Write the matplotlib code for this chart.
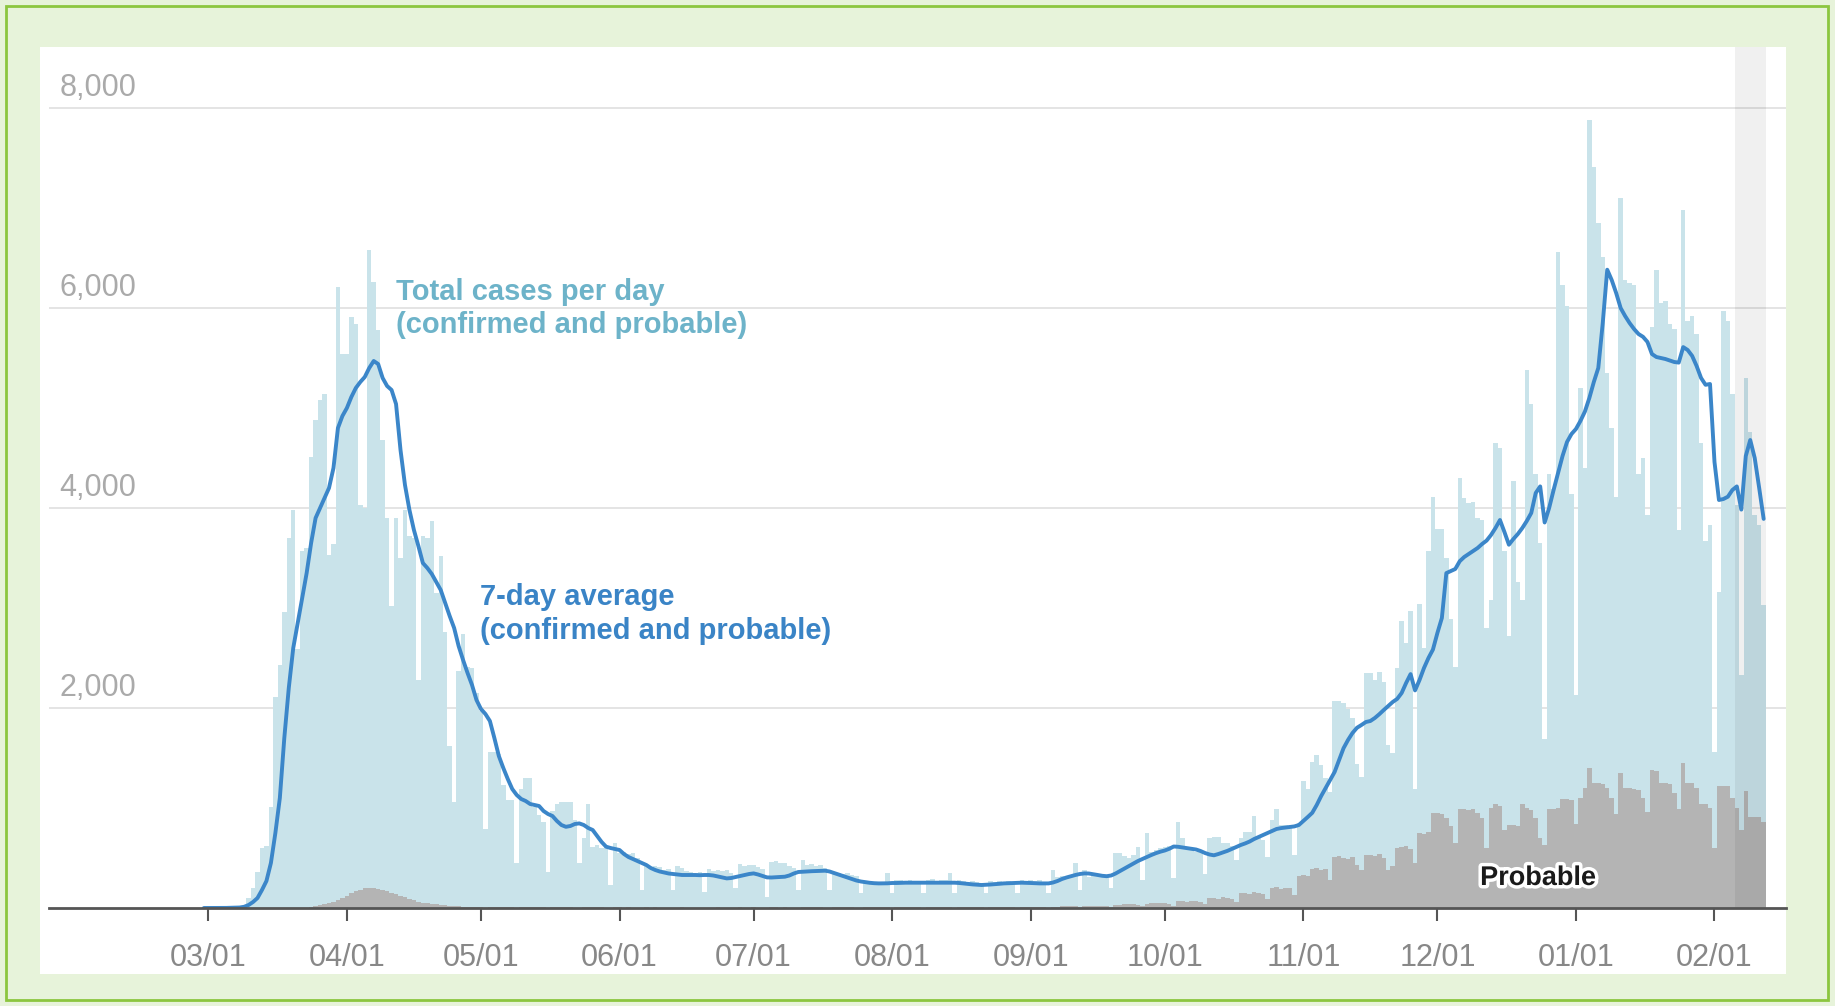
import matplotlib
matplotlib.use("Agg")
import matplotlib.pyplot as plt
import matplotlib.dates as mdates
import matplotlib.patheffects as pe
from matplotlib.patches import Rectangle
import pandas as pd

# daily data, 2020-02-29 .. 2021-02-12
start_date = "2020-02-29"

total_cases = [
    0,
    0, 0, 1, 2, 2, 5, 8,
    10, 25, 100, 200, 360, 600, 620,
    1014, 2106, 2434, 2960, 3700, 3985, 2590,
    3570, 3600, 4510, 4880, 5080, 5140, 3530,
    3640, 6215, 5540, 5540, 5910, 5840, 4030,
    4000, 6585, 6260, 5780, 4685, 3900, 3020,
    3900, 3500, 3985, 3720, 3700, 2280, 3720,
    3700, 3875, 3155, 3525, 2760, 1625, 1057,
    2370, 2740, 2410, 2400, 2150, 1975, 795,
    1560, 1560, 1540, 1230, 1080, 1080, 446,
    1190, 1300, 1300, 1014, 926, 862, 363,
    970, 1045, 1062, 1062, 1062, 880, 446,
    700, 1045, 613, 630, 600, 613, 230,
    646, 546, 560, 540, 546, 500, 180,
    430, 400, 420, 410, 380, 390, 180,
    420, 400, 370, 360, 355, 365, 163,
    390, 375, 385, 370, 380, 350, 196,
    440, 420, 430, 435, 410, 390, 113,
    463, 470, 455, 450, 420, 400, 180,
    480, 430, 440, 425, 430, 400, 180,
    346, 350, 340, 346, 335, 320, 146,
    246, 250, 240, 246, 255, 346, 146,
    280, 285, 275, 280, 270, 260, 146,
    280, 290, 275, 285, 280, 346, 146,
    280, 270, 260, 270, 260, 250, 146,
    270, 260, 270, 260, 270, 260, 150,
    280, 270, 280, 270, 280, 260, 150,
    380, 313, 320, 310, 313, 446, 180,
    380, 313, 350, 340, 330, 320, 200,
    546, 546, 520, 500, 530, 613, 280,
    746, 560, 580, 600, 613, 620, 300,
    862, 700, 600, 580, 560, 560, 340,
    697, 714, 714, 646, 646, 620, 476,
    700, 765, 760, 918, 700, 680, 510,
    884, 986, 833, 833, 800, 527, 850,
    1275, 1190, 1462, 1530, 1428, 1300, 1156,
    2074, 2074, 2050, 1989, 1900, 1445, 1309,
    2346, 2346, 2278, 2363, 2261, 1632, 1547,
    2400, 2873, 2652, 2975, 1190, 3043, 2600,
    3570, 4114, 3791, 3791, 3502, 2890, 2414,
    4301, 4100, 4046, 4061, 3900, 3880, 2797,
    3080, 4654, 4603, 3571, 2720, 4267, 3261,
    3080, 5377, 5041, 4345, 3648, 1687, 4345,
    4190, 6563, 6228, 6022, 4138, 2126, 5196,
    4396, 7879, 7415, 6847, 6512, 5351, 4800,
    4112, 7105, 6280, 6254, 6228, 4345, 4500,
    3932, 5815, 6383, 6048, 6073, 5841, 5790,
    3777, 6976, 5867, 5919, 5738, 4654, 3674,
    3829, 1558, 3158, 5970, 5867, 5145, 4035,
    2332, 5300, 4758, 3932, 3829, 3029,
]

probable_cases = [
    0, 0, 0, 0, 0, 0, 0, 0, 0, 0, 0, 0, 0, 0, 0, 0, 0, 0, 0, 0, 0, 0, 0,
    5, 10, 20, 30, 40, 50, 60, 80, 100, 120,
    150, 170, 180, 200, 205, 200, 190, 180, 170, 150,
    140, 120, 110, 90, 80, 65, 55, 50, 45, 40,
    35, 30, 25, 20, 18, 15, 12, 10, 8, 6,
    5,
    8, 8, 7, 8, 7, 6, 3,
    8, 7, 7, 8, 6, 6, 3,
    7, 8, 6, 7, 6, 5, 3,
    7, 6, 6, 7, 6, 5, 3,
    6, 6, 5, 6, 5, 5, 2,
    6, 5, 6, 5, 5, 4, 2,
    5, 6, 5, 5, 5, 4, 2,
    5, 5, 6, 5, 5, 4, 2,
    6, 5, 5, 6, 5, 4, 2,
    6, 6, 5, 6, 5, 5, 2,
    7, 6, 6, 7, 6, 5, 3,
    7, 7, 6, 7, 6, 5, 3,
    8, 7, 7, 8, 7, 6, 3,
    8, 8, 7, 8, 7, 6, 3,
    9, 8, 8, 9, 8, 7, 4,
    10, 9, 9, 10, 9, 8, 4,
    11, 10, 10, 11, 10, 9, 5,
    12, 11, 12, 13, 12, 10, 5,
    15,
    15, 16, 18, 17, 16, 8,
    20, 22, 24, 22, 20, 18, 10,
    30, 35, 38, 36, 40, 35, 18,
    45, 48, 50, 47, 50, 45, 25,
    68, 70, 65, 72, 70, 60, 40,
    100, 105, 95, 110, 100, 95, 60,
    150, 155, 145, 160, 150, 140, 90,
    200, 210, 195, 205, 200, 130, 320,
    330, 320, 390, 400, 380, 390, 280,
    510, 520, 500, 490, 510, 430, 380,
    527, 530, 520, 540, 500, 380, 420,
    600, 612, 620, 590, 450, 748, 740,
    760, 952, 950, 940, 900, 820, 650,
    986, 990, 980, 990, 950, 900, 600,
    1000, 1040, 1020, 784, 835, 830, 820,
    1040, 1000, 980, 900, 700, 630, 990,
    990, 1000, 1094, 1090, 1080, 840, 1100,
    1200, 1403, 1249, 1250, 1240, 1200, 1100,
    940, 1352, 1200, 1197, 1190, 1180, 1100,
    965, 1378, 1370, 1250, 1250, 1240, 1150,
    990, 1455, 1250, 1250, 1200, 1042, 1040,
    1000, 600, 1223, 1220, 1223, 1100, 1000,
    785, 1171, 913, 910, 913, 860,
]

avg_7day = [
    0, 0, 0, 0, 1, 1, 2, 3, 5, 12,
    30, 60, 100, 180, 270, 450, 750, 1100, 1700, 2200,
    2600, 2850, 3100, 3350, 3650, 3900, 4000, 4100, 4200, 4400,
    4800, 4920, 5000, 5110, 5200, 5260, 5310, 5400, 5470, 5440,
    5300, 5220, 5180, 5040, 4580, 4230, 3980, 3780, 3620, 3450,
    3400, 3340, 3260, 3180, 3050, 2920, 2800, 2620, 2480, 2350,
    2230, 2080, 1990, 1940, 1870, 1700, 1520, 1400, 1290, 1190,
    1130, 1090, 1070, 1040, 1030, 1020, 970, 940, 920, 870,
    830, 812, 820, 840, 846, 830, 800, 780, 720, 660,
    613, 600, 590, 580, 540, 510, 490, 470, 450, 430,
    400, 380, 365, 355, 345, 340, 335, 330, 330, 330,
    330, 328, 330, 330, 325, 315, 305, 296, 300, 310,
    320, 330, 340, 346, 335, 320, 306, 305, 308, 310,
    313, 325, 345, 360, 363, 365, 368, 370, 372, 373,
    365, 350, 335, 320, 305, 290, 275, 265, 258, 252,
    248, 246, 246, 247, 250, 250, 252, 253, 253, 253,
    252, 252, 253, 253, 253, 254, 253, 252, 253, 250,
    245, 240, 236, 233, 230, 232, 235, 238, 242, 246,
    248, 250, 252, 253, 252, 250, 248, 246, 246, 246,
    255, 270, 290, 305, 318, 330, 340, 346, 345, 338,
    330, 322, 318, 325, 345, 370, 395, 420, 446, 470,
    490, 510, 530, 548, 563, 575, 592, 615, 612, 605,
    598, 590, 585, 570, 550, 535, 527, 540, 555, 571,
    590, 610, 630, 646, 665, 690, 710, 731, 750, 770,
    790, 799, 805, 810, 816, 830, 870, 910, 952, 1030,
    1120, 1200, 1280, 1360, 1480, 1598, 1680, 1750, 1802, 1830,
    1860, 1870, 1900, 1938, 1980, 2020, 2060, 2091, 2150, 2250,
    2339, 2176, 2280, 2400, 2500, 2584, 2750, 2900, 3349, 3370,
    3390, 3468, 3510, 3540, 3570, 3600, 3640, 3674, 3730, 3800,
    3880, 3760, 3633, 3690, 3740, 3800, 3870, 3950, 4150, 4216,
    3855, 4000, 4180, 4350, 4520, 4660, 4740, 4790, 4870, 4964,
    5100, 5260, 5400, 5850, 6383, 6280, 6150, 6000, 5920, 5850,
    5790, 5740, 5712, 5661, 5540, 5510, 5500, 5490, 5475, 5460,
    5454, 5609, 5580, 5521, 5420, 5300, 5232, 5240, 4460, 4080,
    4090, 4113, 4180, 4216, 3984, 4520, 4680, 4500, 4200, 3891,
]

y_ticks = [2000, 4000, 6000, 8000]
month_ticks = pd.date_range("2020-03-01", "2021-02-01", freq="MS")

assert len(total_cases) == len(probable_cases) == len(avg_7day) == 350
dates = pd.date_range(start_date, periods=len(total_cases), freq="D")

label_font = ["Liberation Sans", "DejaVu Sans"]

W, H = 1835, 1006
fig = plt.figure(figsize=(W / 100, H / 100), dpi=100)
fig.patch.set_facecolor("#e7f3da")


def fx(px):
    return px / W


def fy(py):
    return 1 - py / H


# green frame and white panel (behind the axes)
fig.patches.append(Rectangle((fx(6), fy(1000)), fx(1828) - fx(6), fy(6) - fy(1000),
                             transform=fig.transFigure, fill=False,
                             edgecolor="#8cc63f", linewidth=2, zorder=-10))
fig.patches.append(Rectangle((fx(40), fy(974)), fx(1786) - fx(40), fy(47) - fy(974),
                             transform=fig.transFigure, facecolor="white",
                             edgecolor="none", zorder=-9))

ax = fig.add_axes([fx(49), fy(908), fx(1786) - fx(49), fy(47) - fy(908)])
ax.set_facecolor("none")

day0 = pd.Timestamp("2020-03-01")
ax.set_xlim(mdates.date2num(day0 - pd.Timedelta(days=35.65)),
            mdates.date2num(day0 + pd.Timedelta(days=353.0)))
ax.set_ylim(0, 8610)

for v in y_ticks:
    ax.axhline(v, color="#e4e4e4", lw=1.4, zorder=0.5)
    ax.annotate(f"{v:,}", xy=(0.006, v), xycoords=ax.get_yaxis_transform(),
                xytext=(0, 9), textcoords="offset points", ha="left", va="baseline",
                color="#aaaaaa", fontsize=22, family=label_font)

ax.bar(dates, total_cases, width=1.0, color="#c9e3ea", linewidth=0, zorder=1)
ax.bar(dates, probable_cases, width=1.0, color="#b4b4b4", linewidth=0, zorder=2)

# last week shaded (incomplete data)
ax.axvspan(dates[-7] - pd.Timedelta(hours=12), dates[-1] + pd.Timedelta(hours=12),
           color="black", alpha=0.06, linewidth=0, zorder=3)

ax.plot(dates, avg_7day, color="#3b86c9", lw=2.8, zorder=4,
        solid_joinstyle="round", solid_capstyle="round")

for s in ["top", "left", "right"]:
    ax.spines[s].set_visible(False)
ax.spines["bottom"].set_color("#555555")
ax.spines["bottom"].set_linewidth(2)
ax.spines["bottom"].set_zorder(5)

ax.set_yticks([])
ax.set_xticks(month_ticks)
ax.set_xticklabels([d.strftime("%m/%d") for d in month_ticks], family=label_font)
ax.tick_params(axis="x", direction="out", length=9, width=1.5, color="#555555",
               labelcolor="#888888", labelsize=22, pad=16)

# annotations
fig.text(fx(396), fy(300), "Total cases per day", color="#6db3c9", fontsize=21,
         weight="bold", family=label_font, va="baseline")
fig.text(fx(396), fy(333), "(confirmed and probable)", color="#6db3c9", fontsize=21,
         weight="bold", family=label_font, va="baseline")
fig.text(fx(480), fy(605), "7-day average", color="#3a84c6", fontsize=21,
         weight="bold", family=label_font, va="baseline")
fig.text(fx(480), fy(639), "(confirmed and probable)", color="#3a84c6", fontsize=21,
         weight="bold", family=label_font, va="baseline")
fig.text(fx(1538), fy(878), "Probable", color="#1a1a1a", fontsize=19.5,
         weight="bold", family=label_font, ha="center", va="center",
         path_effects=[pe.withStroke(linewidth=5, foreground="white")])

fig.savefig("out.png", dpi=100, facecolor=fig.get_facecolor())
